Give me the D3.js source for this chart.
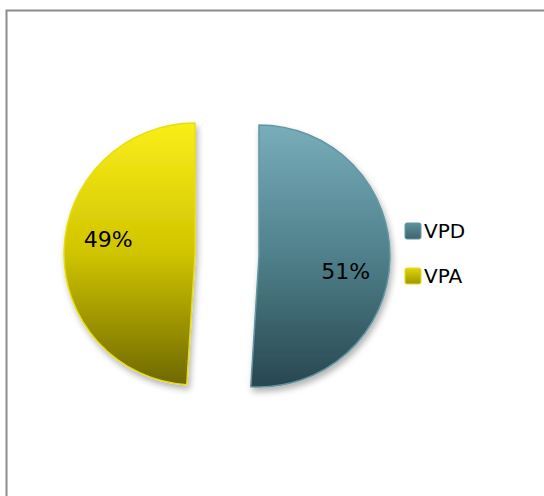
<!DOCTYPE html>
<html>
<head>
<meta charset="utf-8">
<script src="https://cdn.jsdelivr.net/npm/d3@7"></script>
<style>
  html, body { margin: 0; padding: 0; background: #fff; }
  svg { display: block; }
  text { font-family: "DejaVu Sans", sans-serif; fill: #000; }
</style>
</head>
<body>
<script>
// ---- data ----
const categories = ["VPD", "VPA"];
const values = [51, 49];
const labels = ["51%", "49%"];

// ---- style ----
const W = 544, H = 496;
const colorTop = { VPD: "#78adba", VPA: "#faee1a" };
const colorMid = { VPD: "#4f808b", VPA: "#d0c400" };
const colorBottom = { VPD: "#284750", VPA: "#6e6800" };
const strokeCol = { VPD: "#6496a2", VPA: "#e6de10" };

const svg = d3.select("body").append("svg").attr("width", W).attr("height", H);
const defs = svg.append("defs");

// chart border (extends past the right/bottom edges)
svg.append("rect")
  .attr("x", 6.5).attr("y", 10.5)
  .attr("width", 600).attr("height", 600)
  .attr("fill", "#fff").attr("stroke", "#8c8c8c").attr("stroke-width", 2);

const cx = 227, cy = 255, R = 131, explode = 32;

const shadow = defs.append("filter").attr("id", "shadow")
  .attr("x", "-20%").attr("y", "-20%").attr("width", "140%").attr("height", "140%");
shadow.append("feDropShadow").attr("dx", 2).attr("dy", 4).attr("stdDeviation", 3)
  .attr("flood-color", "#000").attr("flood-opacity", 0.3);

categories.forEach(c => {
  const g = defs.append("linearGradient").attr("id", "grad" + c)
    .attr("gradientUnits", "userSpaceOnUse")
    .attr("x1", 0).attr("y1", -R).attr("x2", 0).attr("y2", R);
  g.append("stop").attr("offset", "0%").attr("stop-color", colorTop[c]);
  g.append("stop").attr("offset", "50%").attr("stop-color", colorMid[c]);
  g.append("stop").attr("offset", "100%").attr("stop-color", colorBottom[c]);
  const s = defs.append("linearGradient").attr("id", "sw" + c)
    .attr("x1", 0).attr("y1", 0).attr("x2", 0).attr("y2", 1);
  s.append("stop").attr("offset", "0%").attr("stop-color", d3.interpolateRgb(colorTop[c], colorMid[c])(0.6));
  s.append("stop").attr("offset", "100%").attr("stop-color", d3.interpolateRgb(colorMid[c], colorBottom[c])(0.5));
});

const data = categories.map((c, i) => ({ cat: c, value: values[i], label: labels[i] }));
const pie = d3.pie().value(d => d.value).sort(null).startAngle(0).endAngle(2 * Math.PI);
const arc = d3.arc().innerRadius(0).outerRadius(R);
const arcs = pie(data);

const pieG = svg.append("g").attr("transform", `translate(${cx},${cy})`);

const slices = pieG.selectAll("g.slice").data(arcs).join("g")
  .attr("class", "slice")
  .attr("transform", d => {
    const a = (d.startAngle + d.endAngle) / 2;
    return `translate(${explode * Math.sin(a)},${-explode * Math.cos(a)})`;
  });

slices.append("path")
  .attr("d", arc)
  .attr("fill", d => `url(#grad${d.data.cat})`)
  .attr("stroke", d => strokeCol[d.data.cat])
  .attr("stroke-width", 1.5)
  .attr("stroke-linejoin", "round")
  .attr("filter", "url(#shadow)");

const labelR = 88, labelRot = 8 * Math.PI / 180;
slices.append("text")
  .attr("x", d => labelR * Math.sin((d.startAngle + d.endAngle) / 2 + labelRot))
  .attr("y", d => -labelR * Math.cos((d.startAngle + d.endAngle) / 2 + labelRot))
  .attr("dy", "0.36em")
  .attr("text-anchor", "middle")
  .style("font-size", "22px")
  .text(d => d.data.label);

// legend
const legend = svg.append("g").attr("transform", "translate(405,223)");
const li = legend.selectAll("g").data(categories).join("g")
  .attr("transform", (d, i) => `translate(0,${i * 45})`);
li.append("rect").attr("width", 16).attr("height", 16).attr("rx", 2)
  .attr("fill", d => `url(#sw${d})`).attr("stroke", d => strokeCol[d]).attr("stroke-width", 1);
li.append("text").attr("x", 19).attr("y", 14.5)
  .style("font-size", "20px").text(d => d);
</script>
</body>
</html>
